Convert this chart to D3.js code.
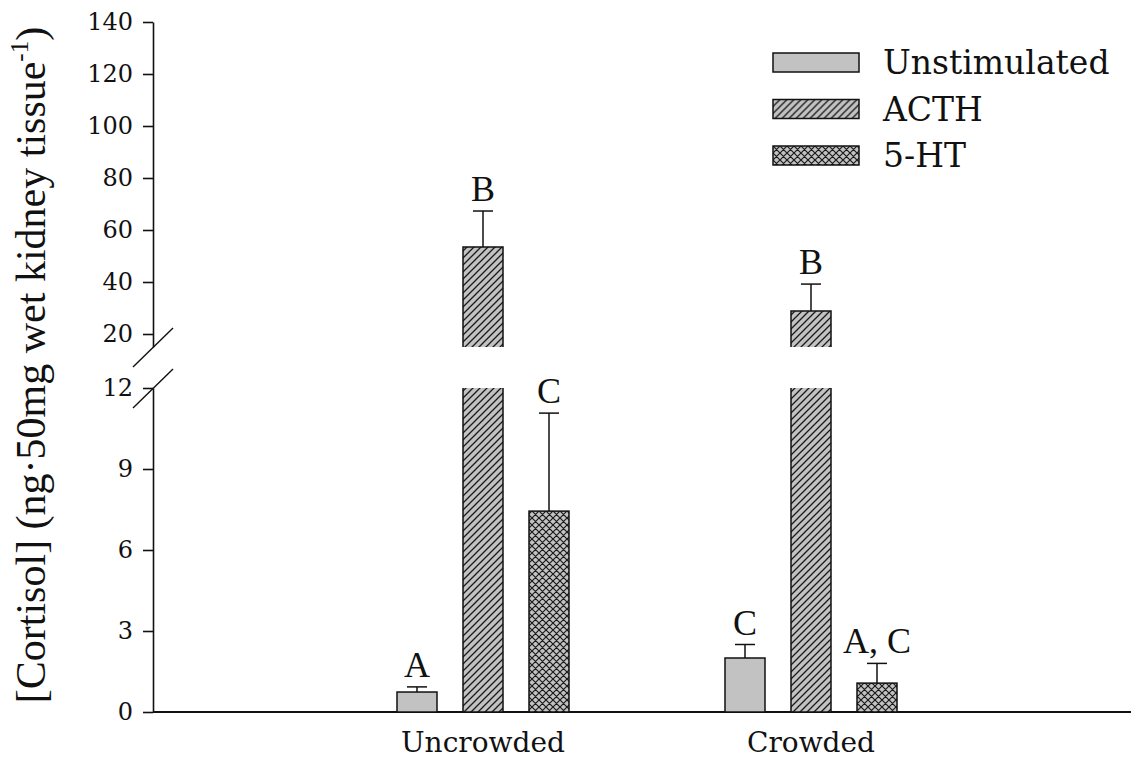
<!DOCTYPE html>
<html>
<head>
<meta charset="utf-8">
<script src="https://cdn.jsdelivr.net/npm/d3@7/dist/d3.min.js"></script>
<style>
  html, body { margin: 0; padding: 0; background: #fff; }
  svg { display: block; }
</style>
</head>
<body>
<svg id="chart" width="1131" height="761"></svg>
<script>
// data
const groups = ['Uncrowded', 'Crowded'];
const treatments = ['Unstimulated', 'ACTH', '5-HT'];
const uncrowdedMeans = [0.74, 53.5, 7.44];
const crowdedMeans   = [2.0, 28.8, 1.07];
const uncrowdedErr   = [0.19, 13.8, 3.63];
const crowdedErr     = [0.5, 10.4, 0.73];
const uncrowdedLetters = ['A', 'B', 'C'];
const crowdedLetters   = ['C', 'B', 'A, C'];
const lowTicks  = [0, 3, 6, 9, 12];
const highTicks = [20, 40, 60, 80, 100, 120, 140];

const means = [uncrowdedMeans, crowdedMeans];
const errs = [uncrowdedErr, crowdedErr];
const letters = [uncrowdedLetters, crowdedLetters];

const SERIF_G = "Georgia, 'DejaVu Serif', serif";
const SERIF_T = "'Liberation Serif', 'Times New Roman', serif";
const FILL = '#c2c2c2';

const svg = d3.select('#chart');
const axisX = 153;
const breakLow = 12, breakHigh = 15;

// two y segments (broken axis)
const yLow  = d3.scaleLinear().domain([0, breakLow]).range([712, 388]);
const yHigh = d3.scaleLinear().domain([breakHigh, 140]).range([347, 22]);
const yVal = v => v <= breakLow ? yLow(v) : yHigh(v);

const x0 = d3.scalePoint().domain(groups).range([483, 811]);
const x1 = d3.scalePoint().domain(treatments).range([-66, 66]);
const barW = 40;

// patterns
const defs = svg.append('defs');
const diag = defs.append('pattern')
  .attr('id', 'pat-acth').attr('patternUnits', 'userSpaceOnUse')
  .attr('width', 7).attr('height', 7);
diag.append('rect').attr('width', 7).attr('height', 7).attr('fill', FILL);
diag.append('path')
  .attr('d', 'M-1,1L1,-1M0,7L7,0M6,8L8,6')
  .attr('stroke', '#1a1a1a').attr('stroke-width', 1.3);

const cross = defs.append('pattern')
  .attr('id', 'pat-5ht').attr('patternUnits', 'userSpaceOnUse')
  .attr('width', 7).attr('height', 7);
cross.append('rect').attr('width', 7).attr('height', 7).attr('fill', FILL);
cross.append('path')
  .attr('d', 'M-1,1L1,-1M0,7L7,0M6,8L8,6M-1,6L1,8M0,0L7,7M6,-1L8,1')
  .attr('stroke', '#1a1a1a').attr('stroke-width', 1.2);

const fillFor = t => t === 'ACTH' ? 'url(#pat-acth)' : t === '5-HT' ? 'url(#pat-5ht)' : FILL;

// axes
const tickFont = g => g.selectAll('text')
  .attr('font-family', SERIF_G).attr('font-size', 24).attr('fill', '#111');

const lowAxis = svg.append('g')
  .attr('transform', `translate(${axisX},0)`)
  .call(d3.axisLeft(yLow).tickValues(lowTicks).tickSize(10).tickPadding(10).tickSizeOuter(0));
const highAxis = svg.append('g')
  .attr('transform', `translate(${axisX},0)`)
  .call(d3.axisLeft(yHigh).tickValues(highTicks).tickSize(10).tickPadding(10).tickSizeOuter(0));
[lowAxis, highAxis].forEach(g => {
  g.select('.domain').attr('stroke', '#111').attr('stroke-width', 1.6);
  g.selectAll('.tick line').attr('stroke', '#111').attr('stroke-width', 1.6);
  tickFont(g);
});

// break slashes on the axis
[yHigh(breakHigh), yLow(breakLow)].forEach(yy => {
  svg.append('line')
    .attr('x1', axisX - 20).attr('y1', yy + 20)
    .attr('x2', axisX + 20).attr('y2', yy - 19)
    .attr('stroke', '#111').attr('stroke-width', 1.4);
});

// x baseline
svg.append('line')
  .attr('x1', axisX).attr('x2', 1131)
  .attr('y1', yLow(0)).attr('y2', yLow(0))
  .attr('stroke', '#111').attr('stroke-width', 1.8);

// bars
groups.forEach((grp, gi) => {
  treatments.forEach((t, ti) => {
    const v = means[gi][ti];
    const cx = x0(grp) + x1(t);
    const left = cx - barW / 2, right = cx + barW / 2;
    const g = svg.append('g');
    const base = yLow(0);
    if (v <= breakLow) {
      g.append('rect')
        .attr('x', left).attr('y', yLow(v))
        .attr('width', barW).attr('height', base - yLow(v))
        .attr('fill', fillFor(t)).attr('stroke', '#111').attr('stroke-width', 1.5);
    } else {
      // lower piece up to the break, open at the top
      const lt = yLow(breakLow);
      g.append('rect')
        .attr('x', left).attr('y', lt).attr('width', barW).attr('height', base - lt)
        .attr('fill', fillFor(t));
      g.append('path')
        .attr('d', `M${left},${lt}L${left},${base}L${right},${base}L${right},${lt}`)
        .attr('fill', 'none').attr('stroke', '#111').attr('stroke-width', 1.5);
      // upper piece, open at the bottom
      const ub = yHigh(breakHigh), ut = yHigh(v);
      g.append('rect')
        .attr('x', left).attr('y', ut).attr('width', barW).attr('height', ub - ut)
        .attr('fill', fillFor(t));
      g.append('path')
        .attr('d', `M${left},${ub}L${left},${ut}L${right},${ut}L${right},${ub}`)
        .attr('fill', 'none').attr('stroke', '#111').attr('stroke-width', 1.5);
    }

    // upper error bar
    const top = v + errs[gi][ti];
    const yTop = yVal(top);
    g.append('line')
      .attr('x1', cx).attr('x2', cx).attr('y1', yVal(v)).attr('y2', yTop)
      .attr('stroke', '#111').attr('stroke-width', 1.5);
    g.append('line')
      .attr('x1', cx - 10).attr('x2', cx + 10).attr('y1', yTop).attr('y2', yTop)
      .attr('stroke', '#111').attr('stroke-width', 1.5);

    // significance letter
    g.append('text')
      .attr('x', cx).attr('y', yTop - 10)
      .attr('text-anchor', 'middle')
      .attr('font-family', SERIF_T).attr('font-size', 36).attr('fill', '#111')
      .text(letters[gi][ti]);
  });
});

// category labels
svg.append('g').selectAll('text')
  .data(groups)
  .join('text')
    .attr('x', d => x0(d)).attr('y', 752)
    .attr('text-anchor', 'middle')
    .attr('font-family', SERIF_G).attr('font-size', 28).attr('fill', '#111')
    .text(d => d);

// y title
const title = svg.append('text')
  .attr('transform', 'translate(45,365) rotate(-90)')
  .attr('text-anchor', 'middle')
  .attr('font-family', SERIF_T).attr('font-size', 42).attr('fill', '#111');
title.append('tspan').text('[Cortisol] (ng·50mg wet kidney tissue');
title.append('tspan').attr('font-size', 25).attr('dy', -17).text('-1');
title.append('tspan').attr('dy', 17).text(')');

// legend
const legend = svg.append('g').attr('transform', 'translate(773,53)');
treatments.forEach((t, i) => {
  const row = legend.append('g').attr('transform', `translate(0,${i * 46.5})`);
  row.append('rect')
    .attr('width', 86).attr('height', 19)
    .attr('fill', fillFor(t)).attr('stroke', '#111').attr('stroke-width', 1.5);
  row.append('text')
    .attr('x', 110).attr('y', 21)
    .attr('font-family', SERIF_G).attr('font-size', 33).attr('fill', '#111')
    .text(t);
});
</script>
</body>
</html>
